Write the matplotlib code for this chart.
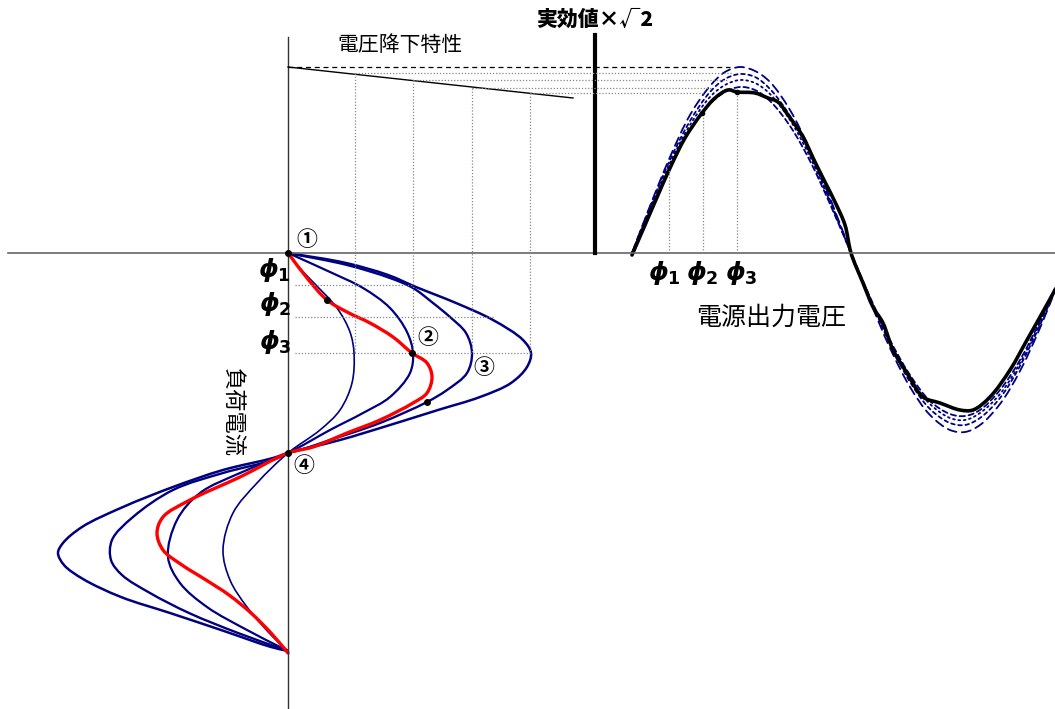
import numpy as np
import matplotlib
matplotlib.use('Agg')
import matplotlib.pyplot as plt
from matplotlib.path import Path
from matplotlib.patches import PathPatch

plt.rcParams['font.family'] = ['Noto Sans CJK JP', 'DejaVu Sans']
plt.rcParams['mathtext.fontset'] = 'custom'
plt.rcParams['mathtext.it'] = 'DejaVu Sans:italic:bold'
plt.rcParams['mathtext.rm'] = 'DejaVu Sans:bold'

# origin of the load current plot (current to the right, time downward)
X0, Y0 = 288, 253

# load current curves: time offset t, current i
cur1_t = [0, 12, 29, 55, 79, 100, 130, 157, 177, 200, 230, 260, 297, 327, 354, 384, 398]
cur1_i = [0, 9, 25, 49, 62, 66, 64, 52, 32, 0, -31, -55, -65, -58, -41, -15, 0]
cur2_t = [0, 19, 35, 55, 79, 100, 120, 144, 160, 177, 200, 220, 240, 267, 304, 330, 354, 377, 394, 398]
cur2_i = [0, 42, 75, 102, 119, 125, 122, 102, 75, 42, 0, -48, -88, -111, -120, -108, -81, -41, -8, 0]
cur3_t = [0, 12, 25, 35, 50, 64, 80, 100, 120, 137, 149, 170, 187, 197, 200,
          207, 220, 237, 264, 287, 307, 322, 340, 360, 380, 398]
cur3_i = [0, 59, 102, 125, 145, 162, 178, 184, 179, 159, 139, 92, 42, 12, 0,
          -15, -65, -115, -155, -176, -177, -166, -138, -99, -50, 0]
cur4_t = [0, 10, 22, 34, 50, 67, 87, 100, 114, 130, 144, 157, 172, 187, 200,
          205, 217, 234, 254, 274, 290, 300, 312, 326, 344, 360, 377, 394, 398]
cur4_i = [0, 58, 100, 128, 168, 205, 235, 243, 239, 223, 192, 150, 102, 52, 0,
          -15, -65, -115, -165, -206, -225, -230, -224, -205, -167, -118, -67, -17, 0]
red_t = [0, 25, 47, 59, 70, 84, 100, 110, 124, 140, 150, 167, 180, 194, 200,
         224, 247, 264, 280, 297, 312, 327, 342, 360, 380, 400]
red_i = [0, 19, 39, 59, 82, 105, 124, 139, 144, 139, 125, 92, 59, 25, 0,
         -48, -98, -125, -131, -125, -106, -82, -59, -37, -17, 0]

# source output voltage (x position, height above the axis)
v_x = [632, 650, 670, 690, 710, 725, 740, 755, 770, 790, 810, 830, 851,
       870, 890, 910, 930, 950, 965, 980, 1000, 1020, 1040, 1055]
vA = [0, 47, 96, 138, 167, 181, 186, 182, 171, 143, 103, 55, 0,
      -48, -95, -134, -162, -177, -179, -172, -151, -118, -75, -38]
vB = [0, 46, 93, 132, 161, 174, 179, 176, 164, 137, 99, 53, 0,
      -46, -91, -129, -156, -170, -172, -165, -145, -113, -72, -37]
vC = [0, 44, 90, 128, 156, 168, 173, 170, 159, 133, 96, 51, 0,
      -45, -89, -125, -151, -165, -167, -160, -141, -110, -70, -36]
vD = [0, 42, 86, 123, 149, 161, 166, 163, 152, 127, 92, 49, 0,
      -44, -87, -122, -148, -161, -163, -157, -137, -107, -68, -35]
blk_x = [632, 645, 658, 670, 685, 702, 715, 728, 737, 755, 768, 778, 788, 802, 815, 825, 835,
         845, 851, 863, 873, 883, 893, 907, 923, 940, 960, 973, 990, 1010, 1027, 1040, 1055]
blk_v = [-2, 28, 58, 85, 115, 140, 155, 163, 161, 160, 155, 151, 138, 118, 91, 71, 51,
         28, 0, -30, -54, -70, -97, -120, -144, -150, -157, -157, -144, -117, -87, -64, -37]

# voltage drop characteristic and the peak levels it maps to
drop_x = [288, 573]
drop_y = [67, 98]
peak_levels = [67, 73, 80, 88, 93]
peak_from = [288, 355, 413, 472, 530]
peak_to = [730, 733, 728, 712, 705]
phi_t = [32, 64, 100]
phi_x = [669, 703, 737]


def smooth(xs, ys, alpha=0.5):
    # centripetal Catmull-Rom through the points, as cubic Bezier segments
    pts = np.column_stack([xs, ys]).astype(float)
    n = len(pts)
    verts = [pts[0]]
    codes = [Path.MOVETO]
    for k in range(n - 1):
        p1, p2 = pts[k], pts[k + 1]
        p0 = pts[k - 1] if k > 0 else 2 * p1 - p2
        p3 = pts[k + 2] if k + 2 < n else 2 * p2 - p1
        d1 = max(np.linalg.norm(p1 - p0) ** alpha, 1e-6)
        d2 = max(np.linalg.norm(p2 - p1) ** alpha, 1e-6)
        d3 = max(np.linalg.norm(p3 - p2) ** alpha, 1e-6)
        c1 = (d1**2 * p2 - d2**2 * p0 + (2 * d1**2 + 3 * d1 * d2 + d2**2) * p1) / (3 * d1 * (d1 + d2))
        c2 = (d3**2 * p1 - d2**2 * p3 + (2 * d3**2 + 3 * d3 * d2 + d2**2) * p2) / (3 * d3 * (d3 + d2))
        verts += [c1, c2, p2]
        codes += [Path.CURVE4] * 3
    return Path(verts, codes)


def curve(ax, xs, ys, **kw):
    ax.add_patch(PathPatch(smooth(xs, ys), fill=False, capstyle='round', joinstyle='round', **kw))


fig = plt.figure(figsize=(10.55, 7.09), dpi=100)
ax = fig.add_axes([0, 0, 1, 1])
ax.set_xlim(0, 1055)
ax.set_ylim(709, 0)
ax.axis('off')

dot_kw = dict(color='#888888', lw=0.9, ls=(0, (1, 1.5)))

# axes
ax.plot([8, 1055], [Y0, Y0], color='#666666', lw=1.2)
ax.plot([X0, X0], [37, 709], color='#333333', lw=1.0)
ax.plot([595, 595], [35, Y0], color='black', lw=3)

# voltage drop line and projections
ax.plot(drop_x, drop_y, color='black', lw=1.0)
for k, (lv, x1, x2) in enumerate(zip(peak_levels, peak_from, peak_to)):
    if k == 0:
        ax.plot([x1, x2], [lv, lv], color='black', lw=0.9, ls=(0, (4, 3)))
    else:
        ax.plot([x1, x2], [lv, lv], **dot_kw)
        ax.plot([x1, x1], [lv, Y0 + phi_t[2]], **dot_kw)

# phase lines on the current plot
for t, xe in zip(phi_t, [413, 493, 530]):
    ax.plot([295, xe], [Y0 + t, Y0 + t], **dot_kw)

# phase lines on the voltage plot
for px in phi_x:
    v = np.interp(px, blk_x, blk_v)
    ax.plot([px, px], [Y0, Y0 - v], **dot_kw)

# load current curves
navy = '#000080'
for ct, ci, lw in [(cur1_t, cur1_i, 1.2), (cur2_t, cur2_i, 1.6),
                   (cur3_t, cur3_i, 1.7), (cur4_t, cur4_i, 1.8)]:
    curve(ax, [X0 + c for c in ci], [Y0 + t for t in ct], ec=navy, lw=lw)
curve(ax, [X0 + c for c in red_i], [Y0 + t for t in red_t], ec='red', lw=2.4)

# source voltage curves
for vv, ls in [(vA, (0, (5, 3))), (vB, (0, (2, 2))), (vC, (0, (1, 2))), (vD, (0, (3, 2)))]:
    curve(ax, v_x, [Y0 - v for v in vv], ec=navy, lw=1.3, ls=ls)
curve(ax, blk_x, [Y0 - v for v in blk_v], ec='black', lw=2.6)

# marker dots
ax.plot([X0, X0, 327, 412, 427], [Y0, 453, 300, 353, 402], 'o', color='black', ms=4)
ax.plot([702, 737], [113, 92], 'o', color='black', ms=3)

# labels
ax.text(595, 20, '実効値×√2', ha='center', va='center', fontsize=15, fontweight='heavy')
ax.text(400, 45, '電圧降下特性', ha='center', va='center', fontsize=15)
ax.text(771, 318, '電源出力電圧', ha='center', va='center', fontsize=18)
ax.text(232, 412, '負荷電流', ha='center', va='center', fontsize=16, rotation=-90)
for s, (x, y) in zip('①②③④', [(307, 240), (428, 337), (484, 368), (304, 465)]):
    ax.text(x, y, s, ha='center', va='center', fontsize=15, fontweight='bold')

for n, (x, y) in zip('123', [(274, 270), (275, 304), (275, 342)]):
    ax.text(x, y, r'$ϕ_%s$' % n, ha='center', va='center', fontsize=18)
for n, (x, y) in zip('123', [(664, 273), (702, 273), (741, 273)]):
    ax.text(x, y, r'$ϕ_%s$' % n, ha='center', va='center', fontsize=18)

fig.savefig('out.png', dpi=100)
